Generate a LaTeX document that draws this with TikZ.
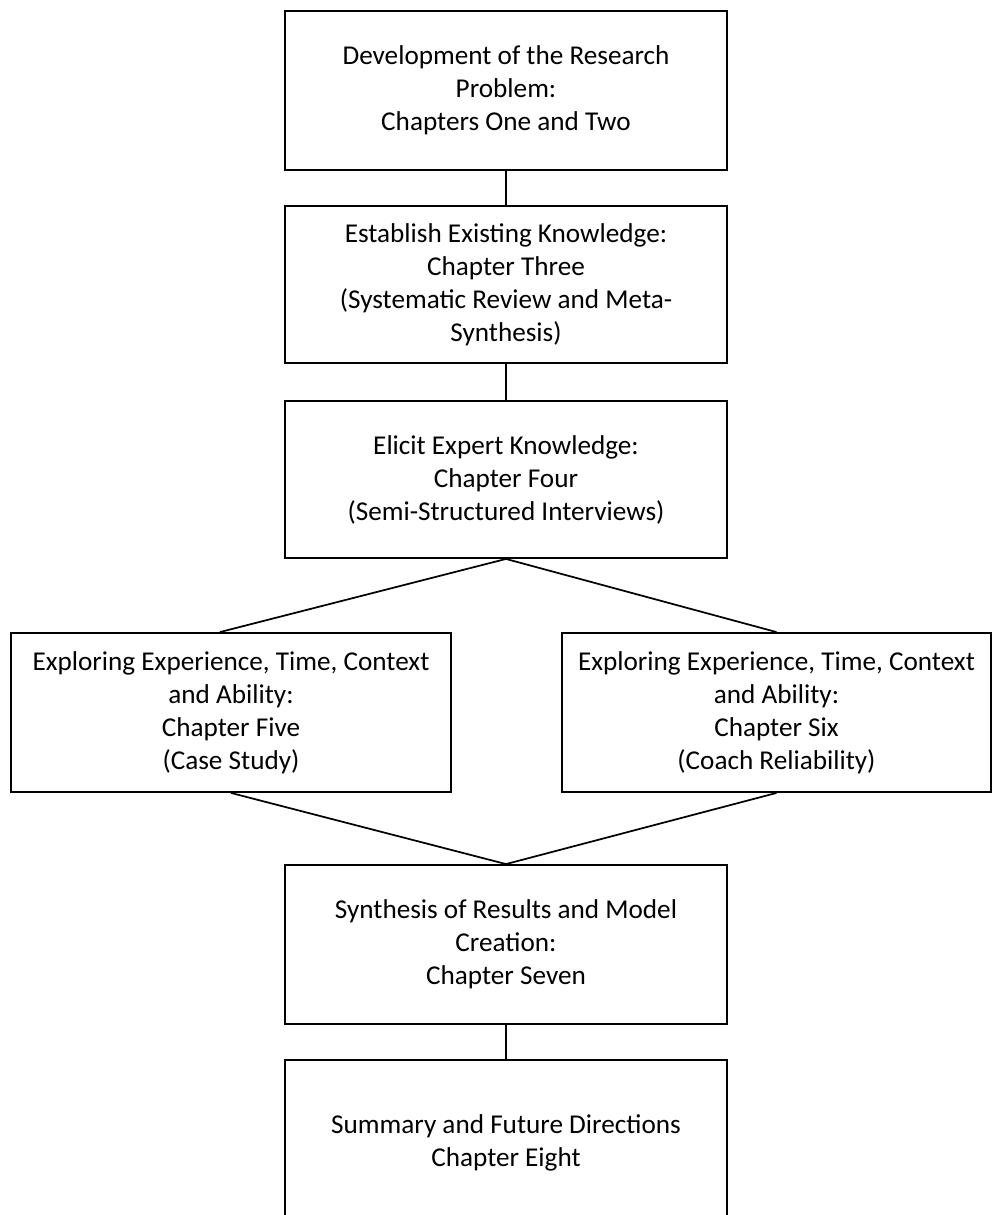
\documentclass[tikz,border=0pt]{standalone}
\usepackage{fontspec}
\setmainfont{Carlito}
\usetikzlibrary{calc}
\begin{document}
\begin{tikzpicture}[x=0.75pt,y=-0.75pt,
  box/.style={draw=black, line width=1.4pt, fill=white, align=center,
    inner sep=0pt, font=\fontsize{20.4}{24.75}\selectfont},
  dims/.style 2 args={minimum width=#1*0.75pt, minimum height=#2*0.75pt},
  link/.style={draw=black, line width=1.3pt}]
\useasboundingbox (0,0) rectangle (993,1215);

\node[box, dims={442}{159}] (b1) at (506,90.5)
  {Development of the Research\\Problem:\\Chapters One and Two};
\node[box, dims={442}{157}] (b2) at (506,284.5)
  {Establish Existing Knowledge:\\Chapter Three\\(Systematic Review and Meta-\\Synthesis)};
\node[box, dims={442}{157}] (b3) at (506,479.5)
  {Elicit Expert Knowledge:\\Chapter Four\\(Semi-Structured Interviews)};
\node[box, dims={440}{159}] (bl) at (231,712.5)
  {Exploring Experience, Time, Context\\and Ability:\\Chapter Five\\(Case Study)};
\node[box, dims={429}{159}] (br) at (776.5,712.5)
  {Exploring Experience, Time, Context\\and Ability:\\Chapter Six\\(Coach Reliability)};
\node[box, dims={442}{159}] (b6) at (506,944.5)
  {Synthesis of Results and Model\\Creation:\\Chapter Seven};
\node[box, dims={442}{166}] (b7) at (506,1143)
  {Summary and Future Directions\\Chapter Eight};

\draw[link] (b1.south) -- (b2.north);
\draw[link] (b2.south) -- (b3.north);
\draw[link] (b3.south) -- ($(bl.north west)!0.475!(bl.north east)$);
\draw[link] (b3.south) -- (br.north);
\draw[link] (bl.south) -- (b6.north);
\draw[link] (br.south) -- (b6.north);
\draw[link] (b6.south) -- (b7.north);
\end{tikzpicture}
\end{document}
